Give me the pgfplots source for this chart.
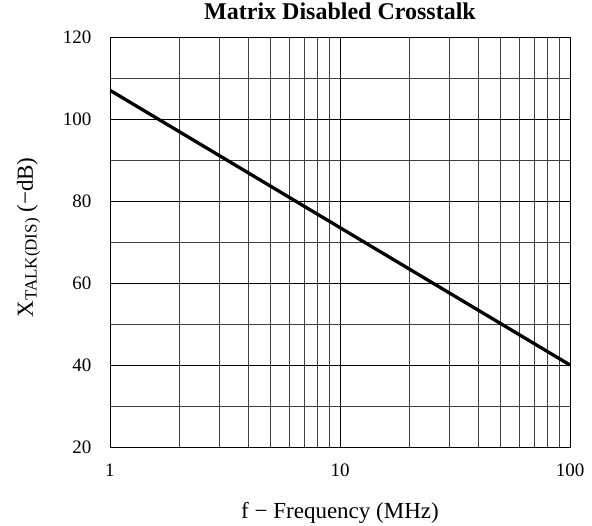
\documentclass[border=0pt]{standalone}
\usepackage{pgfplots}
\pgfplotsset{compat=1.18}
\usepackage{fontspec}
\setmainfont{Liberation Serif}
\begin{document}
\fontsize{19}{22}\selectfont
\begin{tikzpicture}
\path[use as bounding box] (-110pt,-79pt) rectangle (482pt,447pt);
\begin{axis}[
  name=ax,
  at={(0,0)}, anchor=south west,
  scale only axis,
  width=460pt, height=410pt,
  xmode=log,
  xmin=1, xmax=100, ymin=20, ymax=120,
  xtick={1,10,100}, xticklabels={1,10,100},
  ytick={20,40,60,80,100,120}, yticklabels={20,40,60,80,100,120},
  minor ytick={30,50,70,90,110},
  minor xtick={2,3,4,5,6,7,8,9,20,30,40,50,60,70,80,90},
  grid=both,
  major grid style={black, line width=0.9pt},
  minor grid style={black!75, line width=0.9pt},
  axis line style={black, line width=0.9pt},
  major tick length=0pt, minor tick length=0pt,
  /pgf/number format/assume math mode=true,
  tick label style={font=\fontsize{19}{22}\selectfont},
  yticklabel shift=12pt,
  xticklabel style={anchor=base, yshift=-30pt},
  title={\textbf{Matrix Disabled Crosstalk}},
  title style={font=\fontsize{24}{28}\selectfont, at={(axis description cs:0.5,1)}, anchor=base, yshift=11pt},
  xlabel={f − Frequency (MHz)},
  ylabel={X\raisebox{-0.35ex}{\fontsize{17}{20}\selectfont TALK(DIS)} (−dB)},
  xlabel style={font=\fontsize{23}{27}\selectfont, at={(axis description cs:0.5,0)}, anchor=base, yshift=-72pt},
  ylabel style={font=\fontsize{23}{27}\selectfont, at={(axis description cs:0,0.511)}, anchor=base, yshift=77pt},
]
\addplot[black, line width=3.3pt] coordinates {(1,107) (100,40)};
\end{axis}
\end{tikzpicture}
\end{document}
